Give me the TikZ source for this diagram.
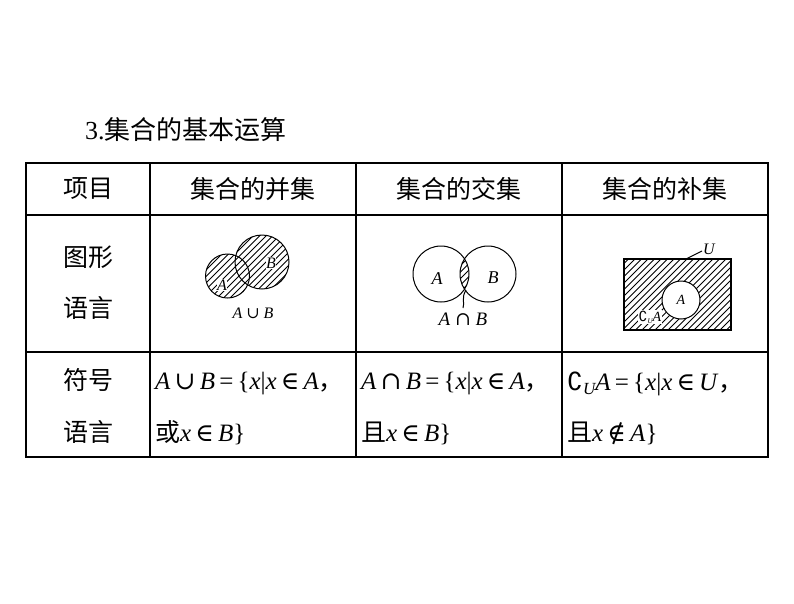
\documentclass[tikz,border=0pt]{standalone}
\usepackage{fontspec}
\setmainfont{Liberation Serif}
\newfontfamily\cjk{Noto Sans CJK SC}
\newfontfamily\symf{DejaVu Serif}
\newfontfamily\symg{DejaVu Sans}
\newcommand{\mi}[1]{\textit{#1}}
\newcommand{\hatchlines}[3]{% center x, center y, half size
  \foreach \k in {-30,...,30}{\draw[line width=0.8pt] ({#1+\k*6.5-#3},{#2+#3}) -- ({#1+\k*6.5+#3},{#2-#3});}}
\begin{document}
\begin{tikzpicture}[x=1pt,y=-1pt,
  cell/.style={font=\cjk\fontsize{25}{28}\selectfont,inner sep=0},
  lab/.style={font=\fontsize{16}{18}\selectfont\itshape,inner sep=0},
  mth/.style={font=\fontsize{25}{28}\selectfont,inner sep=0,anchor=west},
  tline/.style={line width=1.3pt},
  venn/.style={line width=1pt}]
\useasboundingbox (0,0) rectangle (794,603);
\node[cell,font=\cjk\fontsize{26}{28}\selectfont,anchor=west] (title) at (85,130) {\fontfamily{}\rmfamily 3.\cjk 集合的基本运算};
% table
\draw[tline] (26,163) rectangle (768,457);
\draw[tline] (26,215) -- (768,215);
\draw[tline] (26,352) -- (768,352);
\draw[tline] (150,163) -- (150,457);
\draw[tline] (356,163) -- (356,457);
\draw[tline] (562,163) -- (562,457);
\node[cell] (h1) at (88,189) {项目};
\node[cell] (h2) at (253,189) {集合的并集};
\node[cell] (h3) at (459,189) {集合的交集};
\node[cell] (h4) at (665,189) {集合的补集};
\node[cell] (r1a) at (88,257) {图形};
\node[cell] (r1b) at (88,308) {语言};
\node[cell] (r2a) at (88,380) {符号};
\node[cell] (r2b) at (88,432) {语言};
% union
\begin{scope}
\clip (227.5,276) circle (22) (262,262) circle (27);
\hatchlines{245}{270}{50}
\end{scope}
\draw[venn] (227.5,276) circle (22);
\draw[venn] (262,262) circle (27);
\node[lab,fill=white,inner sep=0.5pt] (ua) at (222,285) {A};
\node[lab,fill=white,inner sep=0.5pt] (ub) at (271,263) {B};
\node[lab] (ul) at (253,313) {\mi{A} {\symf∪} \mi{B}};
% intersection
\begin{scope}
\clip (441,274) circle (28);
\clip (488,274) circle (28);
\hatchlines{465}{274}{40}
\end{scope}
\draw[venn] (441,274) circle (28);
\draw[venn] (488,274) circle (28);
\node[lab,font=\fontsize{18}{20}\selectfont\itshape] (ia) at (437,279) {A};
\node[lab,font=\fontsize{18}{20}\selectfont\itshape] (ib) at (493,278) {B};
\node[lab,font=\fontsize{19}{20}\selectfont] (il) at (463,319) {\mi{A} {\symf∩} \mi{B}};
\coordinate (ip) at (466,290);
\draw[venn] (ip) .. controls (461,298) and (465,303) .. (463,308);
% complement
\begin{scope}
\clip (624,259) rectangle (731,330);
\hatchlines{677}{295}{60}
\end{scope}
\draw[line width=1.5pt] (624,259) rectangle (731,330);
\fill[white] (681,300) circle (19);
\draw[venn] (681,300) circle (19);
\node[lab,font=\fontsize{14}{15}\selectfont\itshape] (ca) at (681,300) {A};
\node[lab] (cu) at (709,249) {U};
\coordinate (cp) at (686,259);
\draw[venn] (cp) -- (702,251);
\node[lab,fill=white,inner sep=0.5pt,font=\fontsize{14}{15}\selectfont] (cc) at (650,317) {{\symg∁}\raisebox{-2pt}{\fontsize{7}{8}\selectfont\itshape U}\mi{A}};
% formulas
\node[mth] (f1) at (155,384) {\mi{A}\,{\symf∪}\,\mi{B}\,=\,\{\mi{x}|\mi{x}\,{\symf∈}\,\mi{A}{\cjk ，}};
\node[mth] (f2) at (155,433) {\cjk 或\rmfamily\mi{x}\,{\symf∈}\,\mi{B}\}};
\node[mth] (f3) at (361,384) {\mi{A}\,{\symf∩}\,\mi{B}\,=\,\{\mi{x}|\mi{x}\,{\symf∈}\,\mi{A}{\cjk ，}};
\node[mth] (f4) at (361,433) {\cjk 且\rmfamily\mi{x}\,{\symf∈}\,\mi{B}\}};
\node[mth] (f5) at (567,384) {{\symg∁}\raisebox{-4pt}{\fontsize{17}{18}\selectfont\itshape U}\mi{A}\,=\,\{\mi{x}|\mi{x}\,{\symf∈}\,\mi{U}{\cjk ，}};
\node[mth] (f6) at (567,433) {\cjk 且\rmfamily\mi{x}\,{\symf∉}\,\mi{A}\}};
\end{tikzpicture}
\end{document}
